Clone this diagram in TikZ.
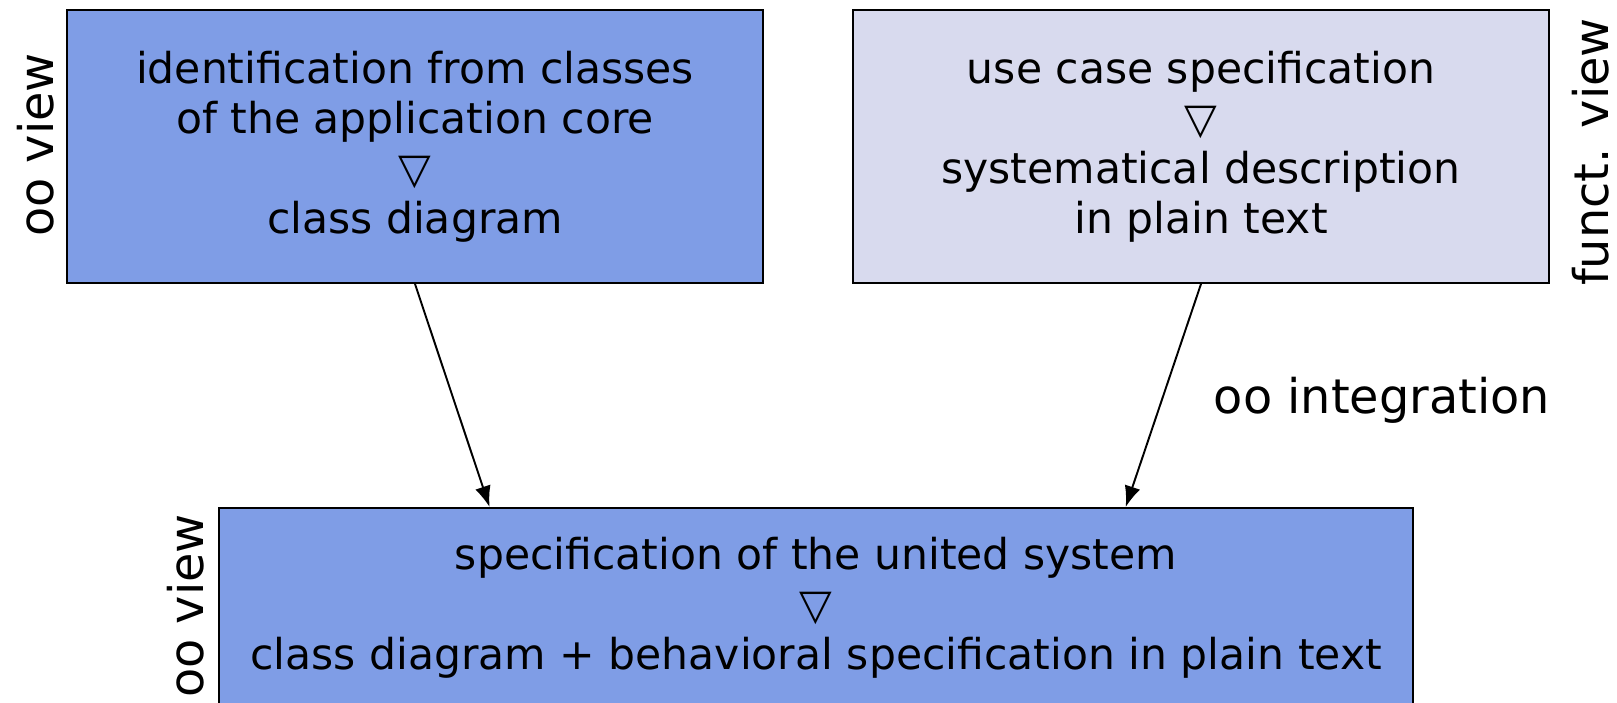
\documentclass[tikz,border=0pt]{standalone}
\usepackage{fontspec}
\setmainfont{DejaVu Sans}
\usepackage{tikz}
\usetikzlibrary{positioning,calc}
\usetikzlibrary{arrows.meta}
\definecolor{ooblue}{RGB}{127,157,230}
\definecolor{funclilac}{RGB}{216,218,238}
\tikzstyle{arrow} = [line width=1.1pt,-{Latex[length=4.2mm,width=3.2mm]}]

\begin{document}
\begin{tikzpicture}[x=0.02cm, y=-0.02cm, font=\fontsize{24.2}{28.5}\selectfont,
		viewbox/.style={rectangle, draw, line width=1.1pt, align=center, inner sep=0pt},
		sidelabel/.style={font=\fontsize{27.2}{32}\selectfont, anchor=center}]
			
			\useasboundingbox (0,0) rectangle (1617,703);
			
			% VIEWS
			
			\node [viewbox, fill=ooblue, minimum width=13.92cm, minimum height=5.46cm] (oocore) at (415,146.5)
			{identification from classes\\ of the application core\\ ▽\\ class diagram};
			
			\node [viewbox, fill=funclilac, minimum width=13.92cm, minimum height=5.46cm] (usecase) at (1201,146.5)
			{use case specification\\ ▽\\ systematical description\\ in plain text};
			
			\node [viewbox, fill=ooblue, minimum width=23.88cm, minimum height=4cm] (united) at (816,608)
			{specification of the united system\\ ▽\\ class diagram + behavioral specification in plain text};
			
			% LABELS
			
			\node [sidelabel, rotate=90] (oolabeltop) at (36,145) {oo view};
			\node [sidelabel, rotate=90] (funclabel) at (1591,152) {funct. view};
			\node [sidelabel, rotate=90] (oolabelbottom) at (186,606) {oo view};
			\node [sidelabel] (integration) at (1382,400) {oo integration};
			
			% ARROWS
			
			\draw [arrow] (oocore.south) -- ($(united.north west)!0.227!(united.north east)$);
			\draw [arrow] (usecase.south) -- ($(united.north west)!0.759!(united.north east)$);
			
			\end{tikzpicture}
\end{document}
